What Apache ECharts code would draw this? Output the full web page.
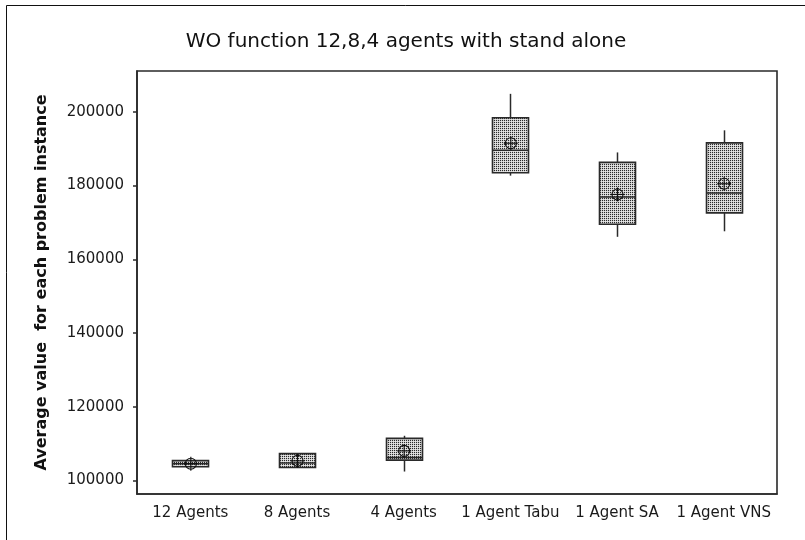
<!DOCTYPE html>
<html><head><meta charset="utf-8">
<script src="https://cdn.jsdelivr.net/npm/echarts@6/dist/echarts.min.js"></script>
<style>html,body{margin:0;padding:0;background:#fff}#c{width:805px;height:540px}</style>
</head><body><div id="c"></div>
<script>
const categories = ['12 Agents','8 Agents','4 Agents','1 Agent Tabu','1 Agent SA','1 Agent VNS'];
const whiskerLow  = [103700, 103500, 102400, 182700, 166100, 167600];
const q1          = [103700, 103500, 105500, 183500, 169500, 172600];
const medians     = [104500, 104700, 106200, 189600, 176900, 178000];
const q3          = [105350, 107250, 111400, 198400, 186300, 191600];
const whiskerHigh = [105350, 107250, 112100, 204900, 189000, 195000];
const means       = [104500, 105300, 108000, 191500, 177600, 180500];
const yTicks = [100000, 120000, 140000, 160000, 180000, 200000];

const pc = document.createElement('canvas'); pc.width = 2; pc.height = 2;
const g = pc.getContext('2d');
g.fillStyle = '#cdcdcd'; g.fillRect(0, 0, 2, 2);
g.fillStyle = '#2a2a2a'; g.fillRect(0, 0, 1, 1);
g.fillStyle = '#e6e6e6'; g.fillRect(1, 1, 1, 1);
const pattern = {type: 'pattern', image: pc, repeat: 'repeat'};

const data = categories.map((c, i) => [i, whiskerLow[i], q1[i], medians[i], q3[i], whiskerHigh[i], means[i]]);
const STROKE = '#2a2a2a';

function renderItem(params, api) {
  const i = api.value(0);
  const pLow = api.coord([i, api.value(1)]);
  const pQ1 = api.coord([i, api.value(2)]);
  const pMed = api.coord([i, api.value(3)]);
  const pQ3 = api.coord([i, api.value(4)]);
  const pHigh = api.coord([i, api.value(5)]);
  const pMean = api.coord([i, api.value(6)]);
  const x = Math.round(pQ1[0]) + 0.5;
  const w = 36;
  const ls = {stroke: STROKE, lineWidth: 1.5, fill: null};
  const children = [];
  if (pHigh[1] < pQ3[1]) children.push({type: 'line', shape: {x1: x, y1: pQ3[1], x2: x, y2: pHigh[1]}, style: ls});
  if (pLow[1] > pQ1[1]) children.push({type: 'line', shape: {x1: x, y1: pQ1[1], x2: x, y2: pLow[1]}, style: ls});
  children.push({type: 'rect', shape: {x: x - w / 2, y: pQ3[1], width: w, height: pQ1[1] - pQ3[1]},
    style: {fill: pattern, stroke: STROKE, lineWidth: 1.6}});
  children.push({type: 'line', shape: {x1: x - w / 2, y1: pMed[1], x2: x + w / 2, y2: pMed[1]}, style: ls});
  const mx = pMean[0] + 0.5, my = pMean[1];
  children.push({type: 'circle', shape: {cx: mx, cy: my, r: 5.5}, style: {fill: null, stroke: '#111', lineWidth: 1.1}});
  children.push({type: 'line', shape: {x1: mx - 7, y1: my, x2: mx + 7, y2: my}, style: {stroke: '#111', lineWidth: 1.1}});
  children.push({type: 'line', shape: {x1: mx, y1: my - 7, x2: mx, y2: my + 7}, style: {stroke: '#111', lineWidth: 1.1}});
  return {type: 'group', children};
}

const chart = echarts.init(document.getElementById('c'), null, {renderer: 'canvas'});
chart.setOption({
  animation: false,
  backgroundColor: '#fff',
  grid: {left: 137, right: 28, top: 71, bottom: 46, show: true, borderColor: '#2a2a2a', borderWidth: 1.6, backgroundColor: 'transparent'},
  graphic: [
    {type: 'text', x: 406, y: 42, style: {text: 'WO function 12,8,4 agents with stand alone', fontFamily: 'DejaVu Sans', fontSize: 20, fill: '#111', align: 'center', verticalAlign: 'middle'}},
    {type: 'line', shape: {x1: 6.5, y1: 5.5, x2: 805, y2: 5.5}, style: {stroke: '#111', lineWidth: 1}},
    {type: 'line', shape: {x1: 6.5, y1: 5.5, x2: 6.5, y2: 540}, style: {stroke: '#111', lineWidth: 1}}
  ],
  xAxis: {
    type: 'category', data: categories, boundaryGap: true,
    axisLine: {lineStyle: {color: '#2a2a2a', width: 1.6}},
    axisTick: {alignWithLabel: true, length: 4, inside: false, lineStyle: {color: '#2a2a2a', width: 1.5}},
    axisLabel: {fontFamily: 'DejaVu Sans', fontSize: 15, color: '#1a1a1a', margin: 12, interval: 0},
    splitLine: {show: false}
  },
  yAxis: {
    type: 'value', min: 96300, max: 211100,
    name: 'Average value  for each problem instance', nameLocation: 'middle', nameGap: 87,
    nameTextStyle: {fontFamily: 'DejaVu Sans', fontWeight: 'bold', fontSize: 16, color: '#111'},
    axisLine: {show: true, lineStyle: {color: '#2a2a2a', width: 1.6}},
    axisTick: {show: true, length: 4, inside: false, customValues: yTicks, lineStyle: {color: '#2a2a2a', width: 1.5}},
    axisLabel: {fontFamily: 'DejaVu Sans', fontSize: 15, color: '#1a1a1a', margin: 13, customValues: yTicks, formatter: v => String(v)},
    splitLine: {show: false}
  },
  series: [{
    type: 'custom', renderItem: renderItem, data: data,
    encode: {x: 0, y: [1, 2, 3, 4, 5, 6]}
  }]
});
</script>
</body></html>
